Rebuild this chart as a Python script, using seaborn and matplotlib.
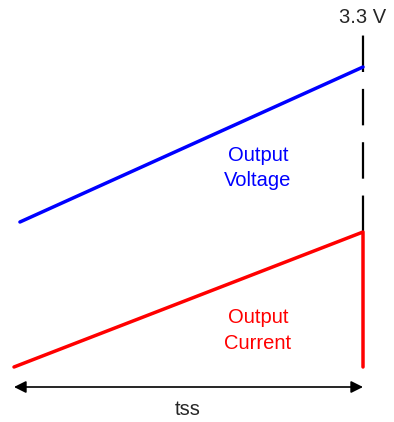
import numpy as np
import pandas as pd
import matplotlib
matplotlib.use("Agg")
import matplotlib.pyplot as plt
import seaborn as sns

# time normalised to tss, levels in volts-like units
t_voltage = [0.017, 1.0]
v_voltage = [1.595, 3.3]
t_current = [0.0, 1.0, 1.0]
v_current = [0.0, 1.485, 0.0]
t_marker = [1.0, 1.0]
v_marker = [1.485, 3.65]
vout_label = "3.3 V"
span_label = "tss"

sns.set_style("white")
plt.rcParams['font.family'] = ['Liberation Sans', 'DejaVu Sans']

fig = plt.figure(figsize=(3.94, 4.22), dpi=100)
ax = fig.add_axes([0, 0, 1, 1])

# dashed marker at tss (drawn bottom-up)
ax.plot(t_marker, v_marker, color="black", lw=1.6, dashes=(16.4, 7.6), dash_capstyle="butt")

sns.lineplot(x=t_voltage, y=v_voltage, ax=ax, color="#0000ff", lw=2.5, sort=False)
sns.lineplot(x=t_current, y=v_current, ax=ax, color="#ff0000", lw=2.5, sort=False, estimator=None)

# double arrow for tss
ax.annotate("", xy=(1.0, -0.22), xytext=(0.0, -0.22),
            arrowprops=dict(arrowstyle="<|-|>", color="black", lw=1.2,
                            mutation_scale=18, shrinkA=0, shrinkB=0))

ax.text(1.0, 3.84, vout_label, ha="center", va="center", fontsize=14.5)
ax.text(0.4986, -0.47, span_label, ha="center", va="center", fontsize=14.5)
ax.text(0.699, 2.19, "Output\nVoltage", ha="center", va="center", fontsize=14.5,
        color="#0000ff", linespacing=1.45)
ax.text(0.699, 0.40, "Output\nCurrent", ha="center", va="center", fontsize=14.5,
        color="#ff0000", linespacing=1.45)

ax.set_xlim(-0.0401, 1.0888)
ax.set_ylim(-0.605, 4.037)
ax.set_axis_off()

fig.savefig("out.png", dpi=100, facecolor="white")
